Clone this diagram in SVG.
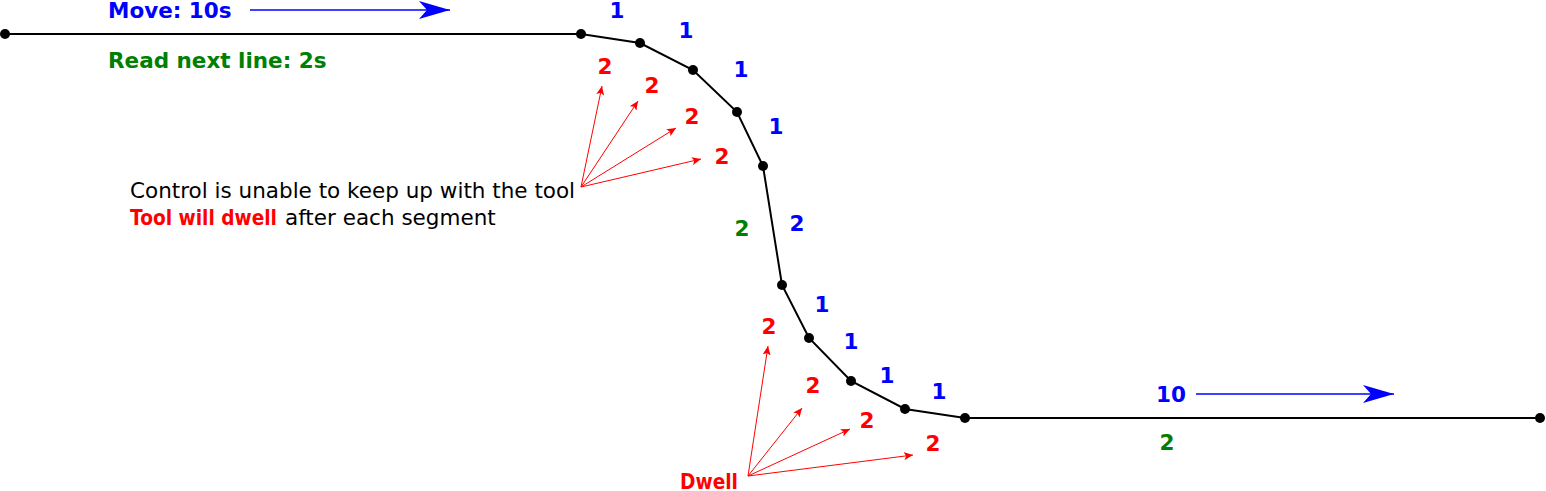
<svg xmlns="http://www.w3.org/2000/svg" width="1546" height="491" viewBox="0 0 1546 491">
<style>
text{font-family:"DejaVu Sans",Verdana,sans-serif;}
.b{fill:#0000ff;font-weight:bold;font-size:21.5px;text-anchor:middle;}
.r{fill:#ff0000;font-weight:bold;font-size:21.5px;text-anchor:middle;}
.g{fill:#008000;font-weight:bold;font-size:21.5px;text-anchor:middle;}
.path{fill:none;stroke:#000;stroke-width:2;}
.dot{fill:#000;}
.ra{stroke:#ff0000;stroke-width:1;fill:none;marker-end:url(#rh);}
.ba{stroke:#0000ff;stroke-width:1.5;fill:none;marker-end:url(#bh);}
</style>
<defs>
<marker id="rh" markerWidth="10" markerHeight="8" refX="9" refY="4" orient="auto" markerUnits="userSpaceOnUse">
<path d="M0,0 L9,4 L0,8 L2,4 Z" fill="#ff0000"/>
</marker>
<marker id="bh" markerWidth="32" markerHeight="18" refX="31" refY="9" orient="auto" markerUnits="userSpaceOnUse">
<path d="M0,0 L31,9 L0,18 L8,9 Z" fill="#0000ff"/>
</marker>
</defs>
<g id="connectors">
<polyline class="path" points="5,34 581,34 640,43 693,70 737,112 763,166 782,285 809,338 851,381 905,409 965,418 1540,418"/>
<line class="ba" x1="250" y1="10" x2="450" y2="10"/>
<line class="ba" x1="1196" y1="394" x2="1394" y2="394"/>
<line class="ra" x1="581" y1="187" x2="602" y2="86"/>
<line class="ra" x1="581" y1="187" x2="638" y2="101"/>
<line class="ra" x1="581" y1="187" x2="676" y2="128"/>
<line class="ra" x1="581" y1="187" x2="701" y2="159"/>
<line class="ra" x1="748" y1="476" x2="768" y2="346"/>
<line class="ra" x1="748" y1="476" x2="802" y2="408"/>
<line class="ra" x1="748" y1="476" x2="850" y2="429"/>
<line class="ra" x1="748" y1="476" x2="913" y2="455"/>
</g>
<g id="points">
<circle class="dot" cx="5" cy="34" r="5"/>
<circle class="dot" cx="581" cy="34" r="5"/>
<circle class="dot" cx="640" cy="43" r="5"/>
<circle class="dot" cx="693" cy="70" r="5"/>
<circle class="dot" cx="737" cy="112" r="5"/>
<circle class="dot" cx="763" cy="166" r="5"/>
<circle class="dot" cx="782" cy="285" r="5"/>
<circle class="dot" cx="809" cy="338" r="5"/>
<circle class="dot" cx="851" cy="381" r="5"/>
<circle class="dot" cx="905" cy="409" r="5"/>
<circle class="dot" cx="965" cy="418" r="5"/>
<circle class="dot" cx="1540" cy="418" r="5"/>
</g>
<g id="move-label"><text class="b" x="108" y="18" style="text-anchor:start">Move: 10s</text></g>
<g id="read-label"><text class="g" x="108" y="68" style="text-anchor:start">Read next line: 2s</text></g>
<g id="blue-labels">
<text class="b" x="617" y="18">1</text>
<text class="b" x="686" y="38">1</text>
<text class="b" x="741" y="77">1</text>
<text class="b" x="776" y="134">1</text>
<text class="b" x="797" y="231">2</text>
<text class="b" x="822" y="312">1</text>
<text class="b" x="851" y="349">1</text>
<text class="b" x="887" y="383">1</text>
<text class="b" x="939" y="399">1</text>
<text class="b" x="1171" y="402">10</text>
</g>
<g id="green-labels">
<text class="g" x="742" y="236">2</text>
<text class="g" x="1167" y="450">2</text>
</g>
<g id="red-labels">
<text class="r" x="605" y="74">2</text>
<text class="r" x="652" y="93">2</text>
<text class="r" x="692" y="124">2</text>
<text class="r" x="722" y="164">2</text>
<text class="r" x="769" y="334">2</text>
<text class="r" x="813" y="393">2</text>
<text class="r" x="867" y="428">2</text>
<text class="r" x="933" y="451">2</text>
</g>
<g id="note">
<text x="130" y="198" font-size="21.5" fill="#000">Control is unable to keep up with the tool</text>
<text x="130" y="225" font-size="21.5" fill="#ff0000" font-weight="bold" textLength="147" lengthAdjust="spacingAndGlyphs">Tool will dwell</text>
<text x="285" y="225" font-size="21.5" fill="#000">after each segment</text>
</g>
<g id="dwell"><text class="r" x="680" y="489" style="text-anchor:start" textLength="58" lengthAdjust="spacingAndGlyphs">Dwell</text></g>
</svg>
